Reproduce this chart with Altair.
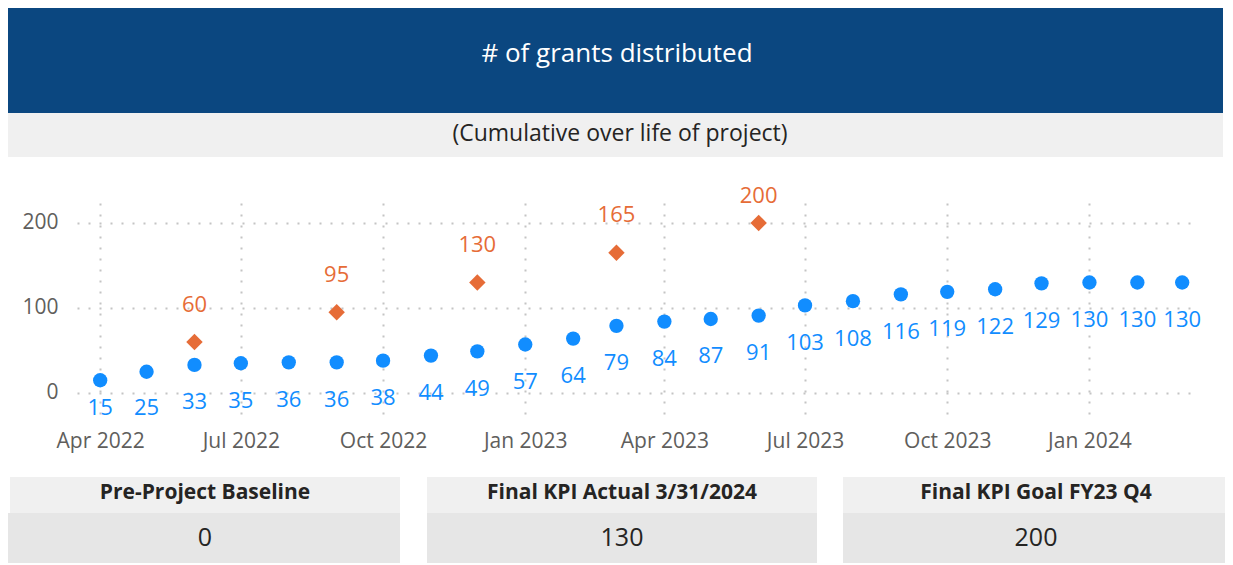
import altair as alt
import pandas as pd

# ---------------- data ----------------
months = ["2022-04", "2022-05", "2022-06", "2022-07", "2022-08", "2022-09",
          "2022-10", "2022-11", "2022-12", "2023-01", "2023-02", "2023-03",
          "2023-04", "2023-05", "2023-06", "2023-07", "2023-08", "2023-09",
          "2023-10", "2023-11", "2023-12", "2024-01", "2024-02", "2024-03"]
actual = [15, 25, 33, 35, 36, 36, 38, 44, 49, 57, 64, 79,
          84, 87, 91, 103, 108, 116, 119, 122, 129, 130, 130, 130]
target_months = ["2022-06", "2022-09", "2022-12", "2023-03", "2023-06"]
target = [60, 95, 130, 165, 200]

title_text = "# of grants distributed"
subtitle_text = "(Cumulative over life of project)"
card_titles = ["Pre-Project Baseline", "Final KPI Actual 3/31/2024", "Final KPI Goal FY23 Q4"]
card_values = ["0", "130", "200"]

FONT = "Open Sans"
BLUE = "#118DFF"
ORANGE = "#E66C37"
NAVY = "#0B4780"
TEXT = "#252423"
AXIS_TEXT = "#605E5C"

actual_df = pd.DataFrame({"date": [m + "-01T00:00:00" for m in months], "value": actual})
target_df = pd.DataFrame({"date": [m + "-01T00:00:00" for m in target_months], "value": target})

W, H = 1116, 217

x_enc = alt.X("date:T",
              scale=alt.Scale(domain=[alt.DateTime(year=2022, month=3, date=17),
                                      alt.DateTime(year=2024, month=3, date=8)]),
              axis=alt.Axis(format="%b %Y", tickCount={"interval": "month", "step": 3},
                            title=None, labelPadding=10, labelFontSize=21,
                            labelFlush=False))
y_axis = alt.Axis(values=[0, 100, 200], title=None, labelPadding=19, labelFontSize=21)
y_scale = alt.Scale(domain=[-31.8, 223.5], nice=False, zero=False)

points = alt.Chart(actual_df).mark_circle(size=205, color=BLUE, opacity=1).encode(
    x=x_enc, y=alt.Y("value:Q", scale=y_scale, axis=y_axis))

point_labels = alt.Chart(actual_df).transform_calculate(
    lab_y="max(datum.value - 44, -17.6)"
).mark_text(fontSize=22, color=BLUE, font=FONT, baseline="middle").encode(
    x=x_enc, y=alt.Y("lab_y:Q", scale=y_scale, axis=y_axis), text="value:Q")

diamonds = alt.Chart(target_df).mark_point(shape="diamond", filled=True, size=270,
                                           color=ORANGE, opacity=1).encode(
    x=x_enc, y=alt.Y("value:Q", scale=y_scale, axis=y_axis))

diamond_labels = alt.Chart(target_df).transform_calculate(
    lab_y="min(datum.value + 44, 232)"
).mark_text(fontSize=22, color=ORANGE, font=FONT, baseline="middle").encode(
    x=x_enc, y=alt.Y("lab_y:Q", scale=y_scale, axis=y_axis), text="value:Q")

one = pd.DataFrame({"k": [0]})

RIGHT = 1148  # right edge of canvas in plot coordinates

header = alt.Chart(one).mark_rect(color=NAVY).encode(
    x=alt.value(-69), x2=alt.value(RIGHT - 2), y=alt.value(-195), y2=alt.value(-90))
header_text = alt.Chart(pd.DataFrame({"t": [title_text]})).mark_text(
    fontSize=26, color="white", font=FONT, baseline="middle", align="center").encode(
    x=alt.value(540), y=alt.value(-149), text="t:N")
sub = alt.Chart(one).mark_rect(color="#F0F0F0").encode(
    x=alt.value(-69), x2=alt.value(RIGHT - 2), y=alt.value(-90), y2=alt.value(-46))
sub_text = alt.Chart(pd.DataFrame({"t": [subtitle_text]})).mark_text(
    fontSize=23, color=TEXT, font=FONT, baseline="middle", align="center").encode(
    x=alt.value(543), y=alt.value(-69), text="t:N")

card_x = [(-67, 323, -69, 128), (350, 740, 350, 545), (766, RIGHT, 766, 959)]
card_layers = []
for (x0, x1, vx0, cx), ttl, val in zip(card_x, card_titles, card_values):
    card_layers.append(alt.Chart(one).mark_rect(color="#F0F0F0").encode(
        x=alt.value(x0), x2=alt.value(x1), y=alt.value(274), y2=alt.value(310)))
    card_layers.append(alt.Chart(one).mark_rect(color="#E6E6E6").encode(
        x=alt.value(vx0), x2=alt.value(x1), y=alt.value(310), y2=alt.value(360)))
    card_layers.append(alt.Chart(pd.DataFrame({"t": [ttl]})).mark_text(
        fontSize=21, fontWeight="bold", color=TEXT, font=FONT, baseline="middle",
        align="center").encode(x=alt.value(cx), y=alt.value(290), text="t:N"))
    card_layers.append(alt.Chart(pd.DataFrame({"t": [val]})).mark_text(
        fontSize=25, color=TEXT, font=FONT, baseline="middle",
        align="center").encode(x=alt.value(cx), y=alt.value(335), text="t:N"))

chart = alt.layer(
    header, header_text, sub, sub_text, *card_layers,
    points, diamonds, point_labels, diamond_labels
).properties(
    width=W, height=H,
    background="white",
    autosize=alt.AutoSizeParams(type="none"),
    padding={"left": 69, "top": 195, "right": 32, "bottom": 145},
).configure_view(stroke=None).configure_axis(
    domain=False, ticks=False, labelFont=FONT, labelColor=AXIS_TEXT,
    gridColor="#C4C4C4", gridDash=[2, 9], gridWidth=2,
)

chart.save("out.html", embed_options={"renderer": "svg", "actions": False})
